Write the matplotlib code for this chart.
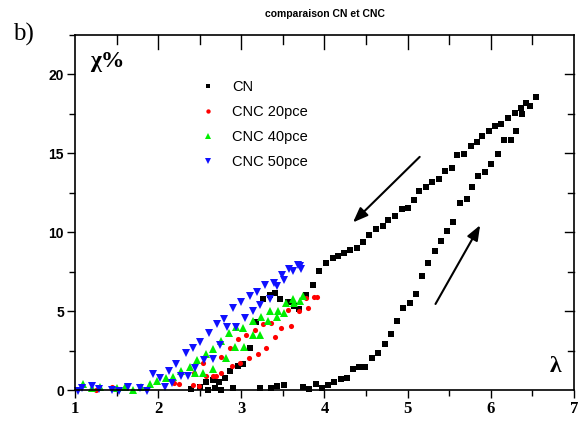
import numpy as np
import matplotlib
matplotlib.use('Agg')
import matplotlib.pyplot as plt
from matplotlib.ticker import MultipleLocator

# CN: unloading branch (upper) and loading branch (lower)
cn_down_x = [6.54, 6.43, 6.37, 6.29, 6.21, 6.13, 6.05, 5.98, 5.90, 5.83, 5.76, 5.68, 5.60, 5.53,
             5.45, 5.38, 5.30, 5.22, 5.14, 5.08, 5.00, 4.93, 4.85, 4.77, 4.70, 4.62, 4.54, 4.46,
             4.39, 4.31, 4.24, 4.16, 4.10, 4.02, 3.94, 3.86, 3.78, 3.70, 3.64, 3.56, 3.47, 3.40,
             3.34, 3.26, 3.18, 3.10, 3.02, 2.96, 2.86, 2.81, 2.73, 2.66, 2.58, 2.50, 2.40]
cn_down_y = [18.56, 18.20, 17.89, 17.53, 17.25, 16.88, 16.74, 16.44, 16.09, 15.70, 15.44, 14.94,
             14.87, 14.07, 13.86, 13.40, 13.16, 12.85, 12.59, 12.03, 11.55, 11.46, 11.01, 10.80,
             10.40, 10.19, 9.81, 9.39, 9.03, 8.86, 8.69, 8.51, 8.34, 8.04, 7.53, 6.65, 6.01, 5.11,
             5.34, 5.59, 5.80, 6.16, 6.01, 5.74, 4.32, 2.66, 1.65, 1.54, 1.22, 0.73, 0.53, 0.63,
             0.53, 0.16, 0.06]
cn_up_x = [2.60, 2.68, 2.76, 2.90, 3.22, 3.36, 3.43, 3.51, 3.74, 3.82, 3.90, 3.97, 4.04, 4.12,
           4.20, 4.27, 4.34, 4.42, 4.49, 4.57, 4.65, 4.73, 4.80, 4.87, 4.95, 5.03, 5.10, 5.17,
           5.25, 5.33, 5.40, 5.48, 5.55, 5.63, 5.71, 5.78, 5.85, 5.93, 6.01, 6.09, 6.16, 6.24,
           6.31, 6.38, 6.47]
cn_up_y = [0.00, 0.11, 0.00, 0.11, 0.11, 0.11, 0.25, 0.30, 0.21, 0.06, 0.36, 0.11, 0.30, 0.49,
           0.68, 0.78, 1.36, 1.44, 1.44, 2.01, 2.32, 2.89, 3.53, 4.37, 5.22, 5.51, 6.06, 7.22,
           8.04, 8.78, 9.43, 10.11, 10.65, 11.87, 12.13, 12.85, 13.56, 13.83, 14.35, 14.98,
           15.82, 15.82, 16.44, 17.49, 17.97]

# CNC 20pce
cnc20_x = [1.25, 1.44, 2.19, 2.25, 2.42, 2.49, 2.43, 2.54, 2.76, 2.86, 2.96, 3.06, 3.16, 3.26,
           3.36, 3.48, 3.56, 3.70, 3.78, 3.88, 3.91, 2.57, 2.66, 2.70, 2.76, 2.89, 2.99, 3.09,
           3.20, 3.30, 3.40, 3.60, 3.80]
cnc20_y = [-0.03, 0.17, 0.44, 0.38, 0.32, 0.25, 1.06, 1.69, 2.11, 2.69, 3.23, 3.48, 3.83, 4.18,
           4.26, 3.96, 5.06, 5.00, 5.82, 5.91, 5.91, 0.89, 0.89, 0.89, 1.09, 1.52, 1.71, 2.01,
           2.26, 2.64, 3.39, 4.05, 5.17]

# CNC 40pce
cnc40_x = [1.10, 1.20, 1.30, 1.50, 1.60, 1.70, 1.79, 1.90, 1.99, 2.09, 2.18, 2.28, 2.38, 2.44,
           2.47, 2.54, 2.57, 2.66, 2.66, 2.76, 2.82, 2.85, 2.92, 2.94, 3.02, 3.03, 3.14, 3.14,
           3.23, 3.24, 3.34, 3.32, 3.43, 3.44, 3.51, 3.54, 3.62, 3.64, 3.71, 3.74]
cnc40_y = [0.38, 0.11, 0.19, 0.11, 0.22, -0.03, 0.19, 0.41, 0.54, 0.73, 0.84, 1.23, 1.47, 1.06,
           1.93, 1.09, 2.28, 2.59, 1.36, 3.13, 2.01, 3.64, 2.74, 3.99, 3.94, 2.75, 4.37, 3.48,
           3.48, 4.64, 5.00, 4.40, 4.60, 5.00, 4.85, 5.51, 5.74, 5.49, 5.63, 5.98]

# CNC 50pce
cnc50_x = [1.04, 1.08, 1.20, 1.29, 1.44, 1.53, 1.64, 1.78, 1.87,
           1.94, 2.13, 2.22, 2.33, 2.42, 2.50, 2.61, 2.71, 2.79, 2.90, 3.00, 3.10, 3.19, 3.29,
           3.39, 3.49, 3.58, 3.68, 3.71,
           2.02, 2.08, 2.17, 2.27, 2.36, 2.44, 2.55, 2.66, 2.75, 2.83, 2.94, 3.04, 3.14, 3.22,
           3.34, 3.43, 3.52, 3.62, 3.72]
cnc50_y = [-0.04, 0.11, 0.25, 0.04, 0.00, -0.04, 0.21, 0.11, -0.04,
           1.01, 1.22, 1.68, 2.36, 2.64, 3.04, 3.62, 4.20, 4.51, 5.19, 5.57, 5.96, 6.22, 6.65,
           6.79, 7.28, 7.64, 7.91, 7.85,
           0.76, 0.21, 0.42, 0.89, 0.89, 1.41, 1.90, 1.94, 2.85, 4.01, 4.01, 4.54, 5.02, 5.38,
           5.74, 6.58, 6.96, 7.53, 7.66]

fig = plt.figure(figsize=(5.8, 4.21), dpi=100)
ax = fig.add_axes([0.1293, 0.0736, 0.860, 0.8432])

kw = dict(ls='none', clip_on=False, mew=0)
ax.plot(cn_down_x + cn_up_x, cn_down_y + cn_up_y, marker='s', ms=3.7, color='black',
        label='CN', **kw)
ax.plot(cnc20_x, cnc20_y, marker='o', ms=3.7, color='red', label='CNC 20pce', **kw)
ax.plot(cnc40_x, cnc40_y, marker='^', ms=5.5, color='#00ee00', label='CNC 40pce', **kw)
ax.plot(cnc50_x, cnc50_y, marker='v', ms=5.5, color='#1010ff', label='CNC 50pce', **kw)

ax.annotate('', xy=(4.32, 10.5), xytext=(5.17, 14.9),
            arrowprops=dict(arrowstyle='-|>,head_length=0.9,head_width=0.35', color='black', lw=1.5))
ax.annotate('', xy=(5.89, 10.6), xytext=(5.32, 5.3),
            arrowprops=dict(arrowstyle='-|>,head_length=0.9,head_width=0.35', color='black', lw=1.5))

ax.set_xlim(1, 7)
ax.set_ylim(0, 22.5)
ax.xaxis.set_major_locator(MultipleLocator(1))
ax.xaxis.set_minor_locator(MultipleLocator(0.5))
ax.yaxis.set_major_locator(MultipleLocator(5))
ax.yaxis.set_minor_locator(MultipleLocator(2.5))
ax.tick_params(which='both', direction='out', top=False, right=False, width=1)
ax.tick_params(which='major', length=6, pad=2)
ax.tick_params(which='minor', length=4)

# mirrored inward ticks on top and right
for x in np.arange(1.5, 7, 0.5):
    ax.plot([x, x], [22.5, 22.5 - (0.9 if x % 1 == 0 else 0.6)], color='black', lw=1, clip_on=False)
for y in np.arange(2.5, 22.5, 2.5):
    ax.plot([7, 7 - (0.1 if y % 5 == 0 else 0.07)], [y, y], color='black', lw=1, clip_on=False)

for t in ax.get_xticklabels():
    t.set_fontsize(12)
    t.set_fontweight('bold')
    t.set_family('Liberation Serif')
for t in ax.get_yticklabels():
    t.set_fontsize(10)
    t.set_fontweight('bold')
    t.set_family('Liberation Sans')
for s in ax.spines.values():
    s.set_linewidth(1.2)

ax.text(0.03, 0.955, 'χ%', transform=ax.transAxes, fontsize=17, fontweight='bold',
        family='Liberation Serif', va='top', ha='left')
ax.text(0.975, 0.065, 'λ', transform=ax.transAxes, fontsize=17, fontweight='bold',
        family='Liberation Serif', va='center', ha='right')
fig.text(0.56, 0.967, 'comparaison CN et CNC', fontsize=7.5, fontweight='bold',
         family='Liberation Sans', ha='center', va='center')
fig.text(0.022, 0.918, 'b)', fontsize=18, family='Liberation Serif', ha='left', va='center')

ax.legend(loc='upper left', bbox_to_anchor=(0.225, 0.91), frameon=False,
          prop=dict(family='Liberation Sans', size=10.5), labelspacing=0.75,
          handlelength=1.0, handletextpad=1.2, markerscale=0.85)

plt.savefig('out.png', dpi=100)
